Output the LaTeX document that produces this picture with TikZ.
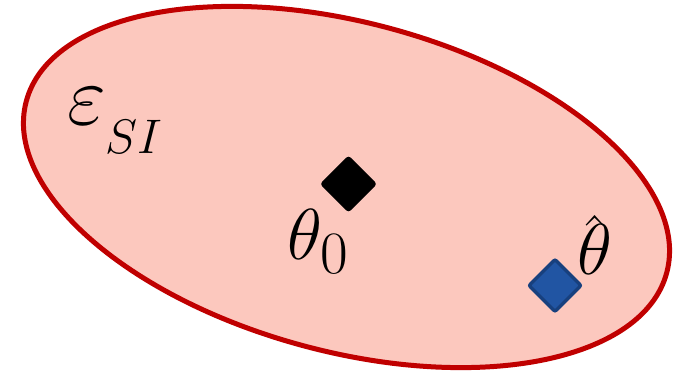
\documentclass[tikz,border=0pt]{standalone}
\definecolor{regionfill}{HTML}{FCC8BE}
\definecolor{regionline}{HTML}{C00000}
\definecolor{estfill}{HTML}{2155A3}
\definecolor{estline}{HTML}{17407E}
\begin{document}
\begin{tikzpicture}[x=1pt,y=1pt,
  region/.style={fill=regionfill,draw=regionline,line width=5pt},
  truemark/.style={fill=black,draw=black,line width=3pt,rounded corners=2pt},
  estmark/.style={fill=estfill,draw=estline,line width=3.5pt,rounded corners=2pt},
  lbl/.style={anchor=base west,inner sep=0pt,font=\Huge,scale=2.9}]
\useasboundingbox (0,0) rectangle (673,372);
\draw[region] (346.5,185) ellipse [x radius=331.5, y radius=164.5, rotate=-15];
\node[lbl,scale=3.4/2.9] (eps) at (67,247) {$\varepsilon$};
\node[lbl,scale=1.95/2.9] (epssub) at (105,218) {$SI$};
\draw[truemark] (348.5,188) ++(0,26.5) coordinate (t1) -- ++(-26.5,-26.5) -- ++(26.5,-26.5) -- ++(26.5,26.5) -- cycle;
\node[lbl] (th0) at (287,112) {$\theta_0$};
\draw[estmark] (555,86.5) ++(0,26) coordinate (e1) -- ++(-26,-26) -- ++(26,-26) -- ++(26,26) -- cycle;
\node[lbl] (thhat) at (577,97) {\rlap{$\theta$}\raisebox{-3.2pt}{$\hat{\phantom{\theta}}$}};
\end{tikzpicture}
\end{document}
